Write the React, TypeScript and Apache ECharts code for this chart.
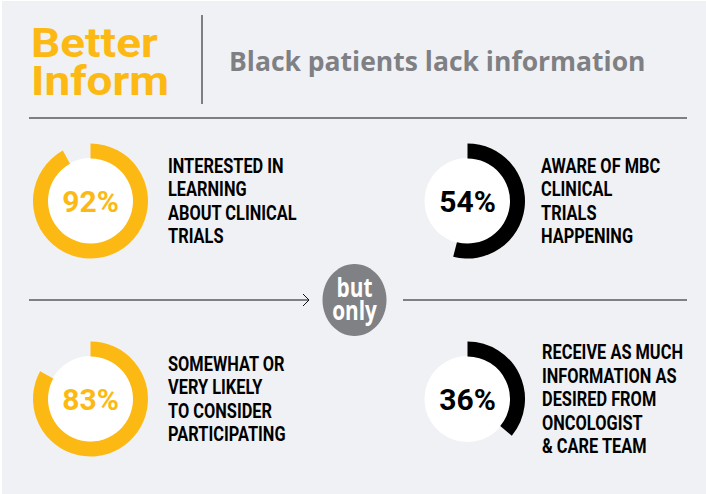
import React, { useEffect, useRef } from "react";
import * as echarts from "echarts";

// ---- data ----
const percents = [92, 54, 83, 36];
const captions = [
  ["INTERESTED IN", "LEARNING", "ABOUT CLINICAL", "TRIALS"],
  ["AWARE OF MBC", "CLINICAL", "TRIALS", "HAPPENING"],
  ["SOMEWHAT OR", "VERY LIKELY", "TO CONSIDER", "PARTICIPATING"],
  ["RECEIVE AS MUCH", "INFORMATION AS", "DESIRED FROM", "ONCOLOGIST", "& CARE TEAM"],
];
const headlineLines = ["Better", "Inform"];
const subtitle = "Black patients lack information";
const connectorLines = ["but", "only"];

// ---- style ----
const YELLOW = "#FDB913";
const BLACK = "#000000";
const ringColors = [YELLOW, BLACK, YELLOW, BLACK];
const BG = "#f0f1f5";

export default function App() {
  const ref = useRef<HTMLDivElement>(null);
  useEffect(() => {
    if (!ref.current) return;
    const chart = echarts.init(ref.current, null, { renderer: "svg" });

    const centers: [number, number][] = [
      [90.5, 201],
      [467.5, 201],
      [90.5, 399],
      [467.5, 399],
    ];
    const captionX = [168, 541, 168, 542];
    const rInner = 42.5;
    const rOuter = 57.5;

    const series: any[] = percents.map((p, i) => ({
      type: "pie",
      silent: true,
      center: centers[i],
      radius: [rInner, rOuter],
      startAngle: 90,
      clockwise: true,
      avoidLabelOverlap: false,
      emphasis: { disabled: true },
      itemStyle: { borderWidth: 0 },
      label: {
        show: true,
        position: "center",
        formatter: "{c}%",
        fontSize: 30,
        fontWeight: "bold",
        fontFamily: "Roboto",
        color: ringColors[i],
      },
      labelLine: { show: false },
      data: [
        { value: p, itemStyle: { color: ringColors[i] } },
        { value: 100 - p, itemStyle: { color: "rgba(0,0,0,0)" }, label: { show: false } },
      ],
    }));

    const graphics: any[] = [
      { type: "rect", z: -10, shape: { x: 2, y: 1, width: 704, height: 493 }, style: { fill: BG } },
      { type: "line", shape: { x1: 202, y1: 15, x2: 202, y2: 104 }, style: { stroke: "#58595b", lineWidth: 1.5 } },
      {
        type: "text",
        x: 229,
        y: 61,
        style: {
          text: subtitle,
          fill: "#7f8084",
          font: "bold 26.5px 'Open Sans'",
          verticalAlign: "middle",
          align: "left",
        },
      },
      { type: "line", shape: { x1: 29, y1: 118, x2: 687, y2: 118 }, style: { stroke: "#58595b", lineWidth: 1.5 } },
      // middle connector
      { type: "line", shape: { x1: 29, y1: 300, x2: 309, y2: 300 }, style: { stroke: "#111", lineWidth: 1.2 } },
      { type: "polyline", shape: { points: [[303, 294], [309, 300], [303, 306]] }, style: { stroke: "#111", lineWidth: 1, fill: null } },
      { type: "line", shape: { x1: 403, y1: 300, x2: 687, y2: 300 }, style: { stroke: "#111", lineWidth: 1.2 } },
      { type: "ellipse", shape: { cx: 354.5, cy: 300, rx: 32, ry: 36 }, style: { fill: "#808184" } },
      {
        type: "text",
        x: 354.5,
        y: 299,
        scaleX: 0.8,
        style: {
          text: connectorLines.join("\n"),
          fill: "#ffffff",
          font: "bold 26px 'Open Sans'",
          lineHeight: 23,
          align: "center",
          verticalAlign: "middle",
        },
      },
    ];

    headlineLines.forEach((t, k) => {
      graphics.push({
        type: "text",
        x: 31,
        y: 43 + k * 38,
        scaleX: 1.12,
        style: {
          text: t,
          fill: YELLOW,
          font: "bold 41px Roboto",
          lineHeight: 38,
          verticalAlign: "middle",
          align: "left",
        },
      });
    });

    centers.forEach(([cx, cy], i) => {
      graphics.push({ type: "circle", z: -1, shape: { cx, cy, r: rInner + 0.5 }, style: { fill: "#ffffff" } });
      graphics.push({
        type: "text",
        x: captionX[i],
        y: cy,
        scaleX: 0.84,
        style: {
          text: captions[i].join("\n"),
          fill: "#000000",
          font: "bold 19.5px Roboto",
          lineHeight: 23.5,
          align: "left",
          verticalAlign: "middle",
        },
      });
    });

    chart.setOption({
      animation: false,
      backgroundColor: "#ffffff",
      graphic: graphics,
      series,
    });
    return () => chart.dispose();
  }, []);
  return (
    <div
      ref={ref}
      style={{ position: "absolute", left: 0, top: 0, width: 706, height: 494 }}
    />
  );
}
